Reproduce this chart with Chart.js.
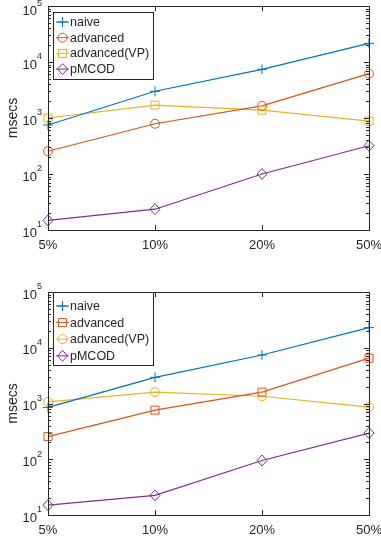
<!DOCTYPE html>
<html>
<head>
<meta charset="utf-8">
<script src="https://cdn.jsdelivr.net/npm/chart.js@4"></script>
<style>
  body { margin: 0; background: #fff; }
  .wrap { position: absolute; left: 0; width: 381px; height: 272px; }
</style>
</head>
<body>
<div class="wrap" style="top:0"><canvas id="c1"></canvas></div>
<div class="wrap" style="top:272px"><canvas id="c2"></canvas></div>
<script>
const categories = ['5%', '10%', '20%', '50%'];
const seriesNames1 = ['naive', 'advanced', 'advanced(VP)', 'pMCOD'];
const seriesNames2 = ['naive', 'advanced', 'advanced(VP)', 'pMCOD'];

// top plot
const naive1 = [750, 3000, 7400, 21500];
const advanced1 = [255, 790, 1650, 6200];
const advancedVP1 = [1000, 1700, 1380, 880];
const pmcod1 = [14.8, 23.5, 100, 320];

// bottom plot
const naive2 = [850, 2950, 7400, 23000];
const advanced2 = [255, 760, 1600, 6500];
const advancedVP2 = [1070, 1600, 1350, 860];
const pmcod2 = [15, 22.5, 95, 295];

const yTicks = [10, 100, 1000, 10000, 100000];

const colors = ['#0072BD', '#D95319', '#EDB120', '#7E2F8E'];
const axisColor = '#262626';
const fontFam = 'Liberation Sans, Arial, sans-serif';

function drawMarker(ctx, style, x, y, color) {
  ctx.save();
  ctx.strokeStyle = color;
  ctx.lineWidth = 1;
  ctx.beginPath();
  if (style === 'cross') {
    ctx.moveTo(x - 5, y); ctx.lineTo(x + 5, y);
    ctx.moveTo(x, y - 5); ctx.lineTo(x, y + 5);
  } else if (style === 'circle') {
    ctx.arc(x, y, 4.5, 0, Math.PI * 2);
  } else if (style === 'rect') {
    ctx.rect(x - 4, y - 4, 8, 8);
  } else if (style === 'rectRot') {
    ctx.moveTo(x, y - 5.5); ctx.lineTo(x + 5, y); ctx.lineTo(x, y + 5.5); ctx.lineTo(x - 5, y); ctx.closePath();
  }
  ctx.stroke();
  ctx.restore();
}

const axesPlugin = {
  id: 'matlabAxes',
  afterDraw(chart, args, opts) {
    const ctx = chart.ctx;
    const a = chart.chartArea;
    const xs = chart.scales.x, ys = chart.scales.y;
    ctx.save();
    // box
    ctx.strokeStyle = axisColor;
    ctx.lineWidth = 1;
    ctx.strokeRect(Math.round(a.left) + 0.5, Math.round(a.top) + 0.5, Math.round(a.right - a.left), Math.round(a.bottom - a.top));
    // y ticks (major + minor) inward on both sides
    for (let e = 1; e < 5; e++) {
      for (let m = 1; m <= 9; m++) {
        const v = m * Math.pow(10, e);
        const py = Math.round(ys.getPixelForValue(v)) + 0.5;
        const len = m === 1 ? 5 : 3;
        ctx.beginPath();
        ctx.moveTo(a.left, py); ctx.lineTo(a.left + len, py);
        ctx.moveTo(a.right, py); ctx.lineTo(a.right - len, py);
        ctx.stroke();
      }
    }
    // x ticks inward top & bottom
    categories.forEach((c, i) => {
      const px = Math.round(xs.getPixelForValue(i)) + 0.5;
      ctx.beginPath();
      ctx.moveTo(px, a.bottom); ctx.lineTo(px, a.bottom - 5);
      ctx.moveTo(px, a.top); ctx.lineTo(px, a.top + 5);
      ctx.stroke();
    });
    // y tick labels 10^n
    ctx.fillStyle = axisColor;
    yTicks.forEach(v => {
      const py = ys.getPixelForValue(v);
      const exp = String(Math.round(Math.log10(v)));
      ctx.font = '13px ' + fontFam;
      ctx.textAlign = 'right';
      ctx.textBaseline = 'middle';
      ctx.fillText('10', a.left - 11, Math.max(py + 3, 11));
      ctx.font = '9px ' + fontFam;
      ctx.textAlign = 'left';
      ctx.fillText(exp, a.left - 11, Math.max(py - 5, 4));
    });
    // x tick labels
    ctx.font = '13px ' + fontFam;
    ctx.textAlign = 'center';
    ctx.textBaseline = 'middle';
    categories.forEach((c, i) => {
      ctx.fillText(c, xs.getPixelForValue(i), a.bottom + 15);
    });
    // y title
    ctx.save();
    ctx.translate(13, (a.top + a.bottom) / 2);
    ctx.rotate(-Math.PI / 2);
    ctx.font = '14px ' + fontFam;
    ctx.textAlign = 'center';
    ctx.textBaseline = 'middle';
    ctx.fillText('msecs', 0, 0);
    ctx.restore();
    // legend
    const lg = opts;
    ctx.fillStyle = '#fff';
    ctx.fillRect(lg.x, lg.y, lg.w, lg.h);
    ctx.strokeStyle = axisColor;
    ctx.strokeRect(lg.x + 0.5, lg.y + 0.5, lg.w, lg.h);
    chart.data.datasets.forEach((ds, i) => {
      const cy = lg.y + lg.first + i * lg.step;
      ctx.strokeStyle = ds.borderColor;
      ctx.beginPath();
      ctx.moveTo(lg.x + 3, cy); ctx.lineTo(lg.x + 16, cy);
      ctx.stroke();
      drawMarker(ctx, ds.pointStyle, lg.x + 9.5, cy, ds.borderColor);
      ctx.fillStyle = axisColor;
      ctx.font = '12.5px ' + fontFam;
      ctx.textAlign = 'left';
      ctx.textBaseline = 'middle';
      ctx.fillText(ds.label, lg.x + 17, cy + 0.5);
    });
    ctx.restore();
  }
};

const markerPlugin = {
  id: 'matlabMarkers',
  afterDatasetsDraw(chart) {
    chart.data.datasets.forEach((ds, i) => {
      chart.getDatasetMeta(i).data.forEach(pt => {
        drawMarker(chart.ctx, ds.pointStyle, pt.x, pt.y, ds.borderColor);
      });
    });
  }
};

function makeChart(id, names, data, styles, pad, xh, legend) {
  new Chart(document.getElementById(id), {
    type: 'line',
    data: {
      labels: categories,
      datasets: data.map((d, i) => ({
        label: names[i],
        data: d,
        borderColor: colors[i],
        borderWidth: 1.2,
        pointStyle: styles[i],
        pointRadius: 0,
        tension: 0
      }))
    },
    options: {
      responsive: true,
      maintainAspectRatio: false,
      animation: false,
      layout: { padding: pad },
      plugins: {
        legend: { display: false },
        tooltip: { enabled: false },
        matlabAxes: legend
      },
      scales: {
        x: {
          type: 'category',
          offset: false,
          grid: { display: false },
          border: { display: false },
          ticks: { display: false },
          afterFit: s => { s.height = xh; }
        },
        y: {
          type: 'logarithmic',
          min: 10,
          max: 100000,
          grid: { display: false },
          border: { display: false },
          ticks: { display: false },
          afterFit: s => { s.width = 48; }
        }
      }
    },
    plugins: [markerPlugin, axesPlugin]
  });
}

makeChart('c1', seriesNames1, [naive1, advanced1, advancedVP1, pmcod1],
  ['cross', 'circle', 'rect', 'rectRot'],
  { left: 0, top: 6, right: 12, bottom: 0 }, 42,
  { x: 53, y: 12, w: 100, h: 67, first: 10, step: 15.7 });

makeChart('c2', seriesNames2, [naive2, advanced2, advancedVP2, pmcod2],
  ['cross', 'rect', 'circle', 'rectRot'],
  { left: 0, top: 20, right: 12, bottom: 0 }, 29,
  { x: 53, y: 20, w: 100, h: 73, first: 14, step: 16.6 });
</script>
</body>
</html>
